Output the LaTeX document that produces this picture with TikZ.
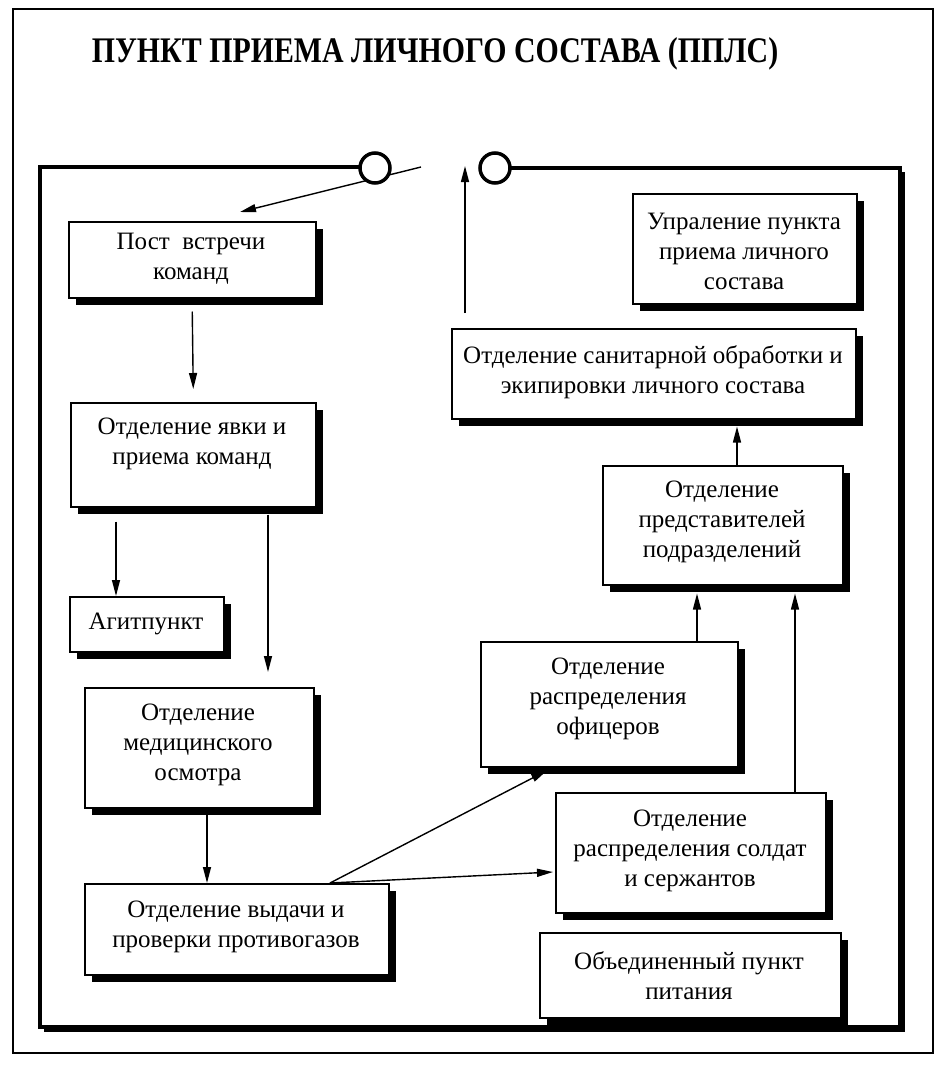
\documentclass[tikz,border=0pt]{standalone}
\usepackage{fontspec}
\setmainfont{Liberation Serif}
\usetikzlibrary{arrows.meta,shadows,calc}
\begin{document}
\begin{tikzpicture}[x=1pt,y=-1pt,
  box/.style={draw, line width=1.5pt, fill=white, anchor=north west, inner sep=0pt,
    drop shadow={shadow xshift=7pt, shadow yshift=-7pt, fill=black, opacity=1}},
  txt/.style={align=center, font=\fontsize{25}{30}\selectfont, inner sep=0pt},
  arr/.style={line width=1.4pt, -{Triangle[length=16pt,width=8pt]}},
  frameline/.style={line width=3.5pt},
  port/.style={circle, draw, line width=3.5pt, fill=white, minimum size=30pt, inner sep=0pt}]
\fill[white] (0,0) rectangle (945,1074);
\useasboundingbox (0,0) rectangle (945,1074);
% outer thin frame
\draw[line width=1.5pt] (13,9) rectangle (933,1053);
% title
\node[font=\bfseries\fontsize{36}{40}\selectfont, inner sep=0pt] (title) at (435,54)
  {\scalebox{0.83}[1]{ПУНКТ ПРИЕМА ЛИЧНОГО СОСТАВА (ППЛС)}};
% inner frame
\coordinate (c1w) at (360,167);
\coordinate (c2e) at (510,168);
\draw[line width=3pt] (903,172) -- (903,1030) -- (44,1030);
\draw[frameline] (c1w) -- (40,167) -- (40,1027) -- (900,1027) -- (900,168) -- (c2e);
% entry / exit
\coordinate (ein) at (421,167);
\coordinate (eout) at (240,212);
\draw[arr] (ein) -- (eout);
\coordinate (xs) at (465,313);
\coordinate (xe) at (465,166);
\draw[arr] (xs) -- (xe);
\node[port] (c1) at (375,168) {};
\node[port] (c2) at (495,168) {};
% boxes
\node[box, minimum width=247pt, minimum height=76pt] (b1) at (68,221) {};
\node[txt] (t1) at (191,259) {Пост\ \ встречи\\команд};
\node[box, minimum width=245pt, minimum height=104pt] (b2) at (70,402) {};
\node[txt] (t2) at (192,444) {Отделение явки и\\приема команд};
\node[box, minimum width=154pt, minimum height=55pt] (ag) at (69,596) {};
\node[txt] (t3) at (146,624) {Агитпункт};
\node[box, minimum width=229pt, minimum height=120pt] (b4) at (84,687) {};
\node[txt] (t4) at (198,745) {Отделение\\медицинского\\осмотра};
\node[box, minimum width=304pt, minimum height=91pt] (b5) at (84,883) {};
\node[txt] (t5) at (236,927) {Отделение выдачи и\\проверки противогазов};
\node[box, minimum width=224pt, minimum height=110pt] (b6) at (632,193) {};
\node[txt] (t6) at (744,251) {Упраление пункта\\приема личного\\состава};
\node[box, minimum width=404pt, minimum height=90pt] (b7) at (451,328) {};
\node[txt] (t7) at (653,372) {Отделение санитарной обработки и\\экипировки личного состава};
\node[box, minimum width=240pt, minimum height=119pt] (b8) at (602,465) {};
\node[txt] (t8) at (722,522) {Отделение\\представителей\\подразделений};
\node[box, minimum width=257pt, minimum height=125pt] (b9) at (480,641) {};
\node[txt] (t9) at (608,699) {Отделение\\распределения\\офицеров};
\node[box, minimum width=270pt, minimum height=120pt] (b10) at (555,792) {};
\node[txt] (t10) at (690,851) {Отделение\\распределения солдат\\и сержантов};
\node[box, minimum width=301pt, minimum height=85pt] (b11) at (539,932) {};
\node[txt] (t11) at (689,976) {Объединенный пункт\\питания};
% connectors
\draw[arr] ([shift={(0,13)}]b1.south) -- ([shift={(0,-13)}]b2.north);
\draw[arr] ([shift={(46,14)}]b2.south west) -- ([shift={(47,0)}]ag.north west);
\draw[arr] ([shift={(198,7)}]b2.south west) -- ([shift={(184,-15)}]b4.north west);
\draw[arr] ([shift={(123,5)}]b4.south west) -- ([shift={(123,0)}]b5.north west);
\coordinate (fork) at ([shift={(246,0)}]b5.north west);
\draw[arr] (fork) -- ([shift={(67,3)}]b9.south west);
\draw[arr] (fork) -- ([shift={(-2,80)}]b10.north west);
\draw[arr] ([shift={(217,0)}]b9.north west) -- ([shift={(95,8)}]b8.south west);
\draw[arr] ([shift={(240,0)}]b10.north west) -- ([shift={(193,8)}]b8.south west);
\draw[arr] ([shift={(135,0)}]b8.north west) -- ([shift={(286,7)}]b7.south west);
\end{tikzpicture}
\end{document}
